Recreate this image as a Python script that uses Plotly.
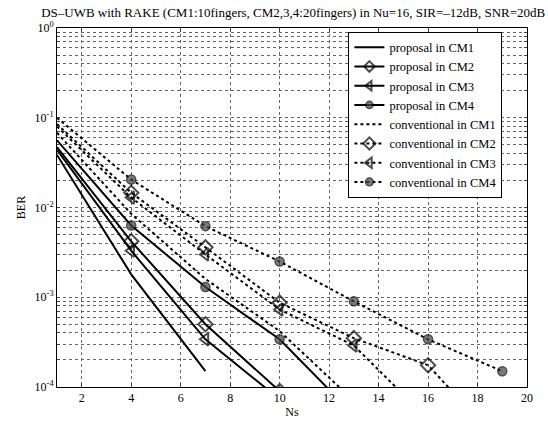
import plotly.graph_objects as go

# ---- data ----
ns_prop_cm1 = [1, 4, 7]
ber_prop_cm1 = [0.0385, 1.8e-3, 1.5e-4]
ns_prop = [1, 4, 7, 10, 13]
ber_prop_cm2 = [0.047, 4.2e-3, 5.0e-4, 9.0e-5]
ber_prop_cm3 = [0.044, 3.3e-3, 3.4e-4, 7.3e-5]
ber_prop_cm4 = [0.056, 6.3e-3, 1.3e-3, 3.4e-4, 4.9e-5]

ns_conv = [1, 4, 7, 10, 13, 16, 19]
ber_conv_cm1 = [0.068, 8.5e-3, 1.6e-3, 4.2e-4, 7.0e-5]
ber_conv_cm2 = [0.085, 0.0146, 3.6e-3, 8.7e-4, 3.5e-4, 1.75e-4, 2.2e-5]
ber_conv_cm3 = [0.080, 0.0129, 3.0e-3, 7.3e-4, 2.9e-4, 4.4e-5]
ber_conv_cm4 = [0.100, 0.0205, 6.2e-3, 2.5e-3, 9.0e-4, 3.4e-4, 1.5e-4]

series_names = [
    "proposal in CM1", "proposal in CM2", "proposal in CM3", "proposal in CM4",
    "conventional in CM1", "conventional in CM2", "conventional in CM3", "conventional in CM4",
]
x_ticks = [2, 4, 6, 8, 10, 12, 14, 16, 18, 20]

FONT = "Liberation Serif"

fig = go.Figure()

def add(x, y, name, dash, symbol):
    n = len(y)
    mode = "lines"
    mk = dict(size=1, color="black")
    if symbol is not None:
        mode = "lines+markers"
        # no marker drawn at the very first (left-edge) point
        if symbol == "circle":
            sz = [0] + [9] * (n - 1)
            mk = dict(symbol="circle", size=sz, color="#444444",
                      line=dict(color="black", width=1.5))
        elif symbol == "diamond-open":
            sz = [0] + [11] * (n - 1)
            mk = dict(symbol="diamond-open", size=sz, color="black",
                      line=dict(width=2))
        else:
            sz = [0] + [11] * (n - 1)
            mk = dict(symbol="triangle-left-open", size=sz, color="black",
                      line=dict(width=2))
    fig.add_trace(go.Scatter(
        x=x[:n], y=y, name=name, mode=mode,
        line=dict(color="black", width=2, dash=dash),
        marker=mk,
    ))

add(ns_prop_cm1, ber_prop_cm1, series_names[0], "solid", None)
add(ns_prop, ber_prop_cm2, series_names[1], "solid", "diamond-open")
add(ns_prop, ber_prop_cm3, series_names[2], "solid", "triangle-left-open")
add(ns_prop, ber_prop_cm4, series_names[3], "solid", "circle")
add(ns_conv, ber_conv_cm1, series_names[4], "dot", None)
add(ns_conv, ber_conv_cm2, series_names[5], "dot", "diamond-open")
add(ns_conv, ber_conv_cm3, series_names[6], "dot", "triangle-left-open")
add(ns_conv, ber_conv_cm4, series_names[7], "dot", "circle")

# y ticks at every log minor position, labels only at decades
yvals, ytext = [], []
for e in range(-4, 1):
    for k in range(1, 10):
        v = k * 10.0 ** e
        if v > 1.0 + 1e-12:
            break
        yvals.append(v)
        ytext.append(f"10<sup>{e}</sup>" if k == 1 else "")

fig.update_layout(
    width=548, height=428,
    margin=dict(l=57, r=21, t=28, b=36),
    paper_bgcolor="white", plot_bgcolor="white",
    font=dict(family=FONT, size=12, color="black"),
    title=dict(
        text="DS\u2013UWB with RAKE (CM1:10fingers, CM2,3,4:20fingers) in Nu=16, SIR=\u201312dB, SNR=20dB",
        x=0.535, xanchor="center", y=0.972, yanchor="middle",
        font=dict(family=FONT, size=13, color="black"),
    ),
    showlegend=True,
    legend=dict(
        x=0.62, y=0.99, xanchor="left", yanchor="top",
        bgcolor="white", bordercolor="black", borderwidth=1,
        font=dict(family=FONT, size=12.5, color="black"),
        tracegroupgap=0, itemwidth=30,
    ),
)

fig.update_xaxes(
    range=[1, 20], tickvals=x_ticks, ticks="inside", ticklen=4,
    showline=True, linecolor="black", linewidth=1, mirror="ticks",
    showgrid=True, gridcolor="#666666", griddash="dot", gridwidth=1,
    zeroline=False,
    title=dict(text="Ns", font=dict(family=FONT, size=12), standoff=2),
    tickfont=dict(family=FONT, size=12),
)
fig.update_yaxes(
    type="log", range=[-4, 0], tickvals=yvals, ticktext=ytext,
    ticks="inside", ticklen=3,
    showline=True, linecolor="black", linewidth=1, mirror="ticks",
    showgrid=True, gridcolor="#666666", griddash="dot", gridwidth=1,
    zeroline=False,
    title=dict(text="BER", font=dict(family=FONT, size=12), standoff=6),
    tickfont=dict(family=FONT, size=12),
)

fig.write_html("out.html")
